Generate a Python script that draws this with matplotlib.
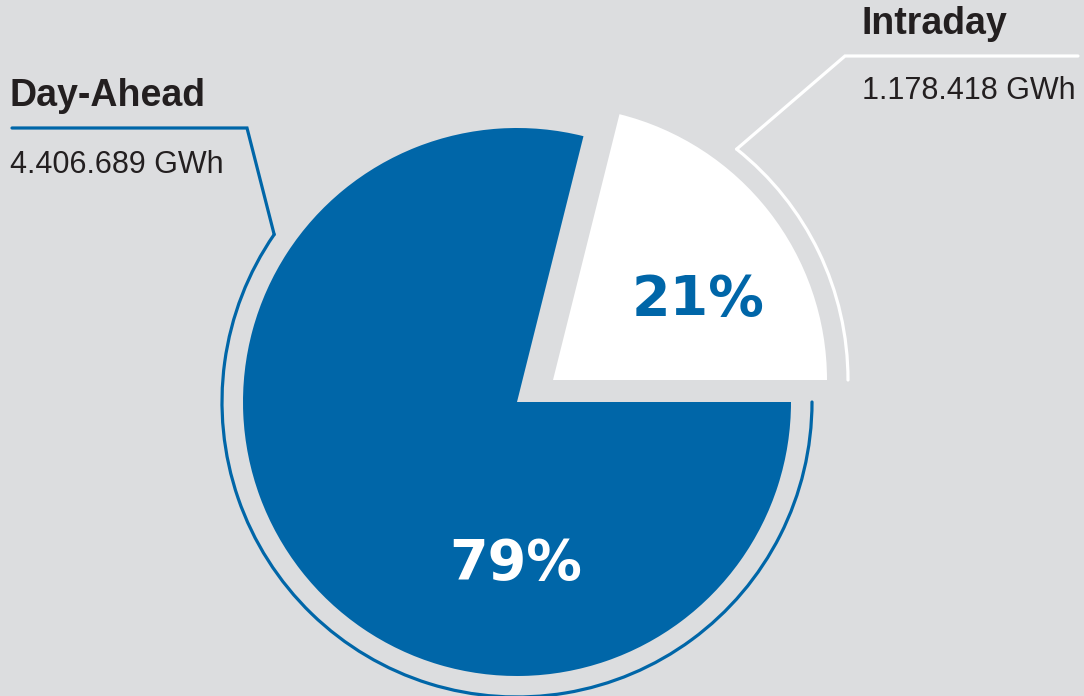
import numpy as np
import matplotlib.pyplot as plt
from matplotlib.patches import Arc

# data
labels = ["Intraday", "Day-Ahead"]
values_gwh = [1178418, 4406689]
value_text = ["1.178.418 GWh", "4.406.689 GWh"]

BG = "#dcdddf"
BLUE = "#0066a8"
WHITE = "#ffffff"
DARK = "#231f20"

W, H = 1084, 696
fig = plt.figure(figsize=(W / 100, H / 100), dpi=100, facecolor=BG)
ax = fig.add_axes([0, 0, 1, 1])
ax.set_facecolor(BG)

center = (517, 294)
radius = 274
wedges, _ = ax.pie(values_gwh, colors=[WHITE, BLUE], startangle=0,
                   counterclock=True, center=center, radius=radius,
                   frame=True, wedgeprops=dict(linewidth=0))
ax.set_xlim(0, W)
ax.set_ylim(0, H)
ax.set_aspect("equal")
ax.axis("off")

# shift the intraday slice out
shift = np.array([36, 22])
wc = np.array(wedges[0].center) + shift
wedges[0].set_center(tuple(wc))

total = sum(values_gwh)
pct = [round(100 * v / total) for v in values_gwh]

# outer arcs + leader lines
arc_r = 295
lw = 2.3
ax.add_patch(Arc(tuple(wc), 2 * arc_r, 2 * arc_r, theta1=0, theta2=51.5,
                 color=WHITE, lw=lw, capstyle="round"))
ax.add_patch(Arc(center, 2 * arc_r, 2 * arc_r, theta1=145.4, theta2=360,
                 color=BLUE, lw=lw, capstyle="round"))

a = np.radians(51.5)
p0 = (wc[0] + arc_r * np.cos(a), wc[1] + arc_r * np.sin(a))
ax.plot([p0[0], 845, 1078], [p0[1], 640, 640], color=WHITE, lw=lw,
        solid_capstyle="round", solid_joinstyle="miter")
a = np.radians(145.4)
p1 = (center[0] + arc_r * np.cos(a), center[1] + arc_r * np.sin(a))
ax.plot([p1[0], 247, 12], [p1[1], 568, 568], color=BLUE, lw=lw,
        solid_capstyle="round", solid_joinstyle="miter")

# labels
lab_font = dict(family=["Liberation Sans", "DejaVu Sans"], color=DARK)
ax.text(862, 662, labels[0], fontsize=27, fontweight="bold", va="baseline", **lab_font)
ax.text(862, 597, value_text[0], fontsize=22, va="baseline", **lab_font)
ax.text(10, 590, labels[1], fontsize=27, fontweight="bold", va="baseline", **lab_font)
ax.text(10, 523, value_text[1], fontsize=22, va="baseline", **lab_font)

# percentages
ax.text(698, 381, f"{pct[0]}%", fontsize=40, fontweight="bold", color=BLUE,
        ha="center", va="baseline", family="DejaVu Sans")
ax.text(516, 117, f"{pct[1]}%", fontsize=40, fontweight="bold", color=WHITE,
        ha="center", va="baseline", family="DejaVu Sans")

fig.savefig("out.png", dpi=100, facecolor=BG)
